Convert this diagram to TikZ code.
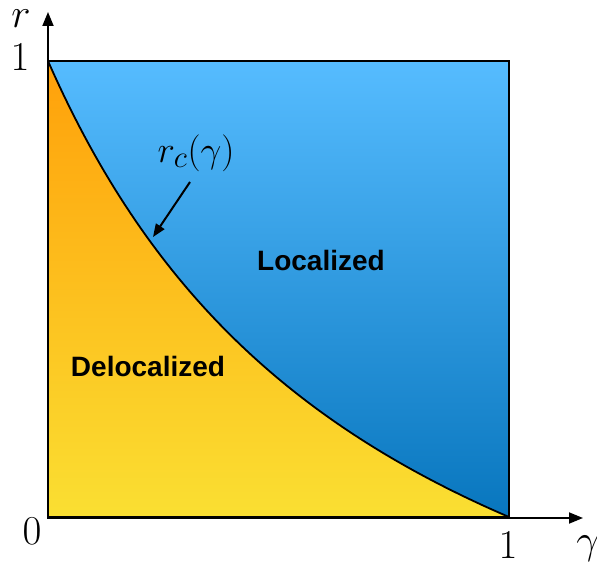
\documentclass[tikz,border=0pt]{standalone}
\usepackage{fontspec}
\newfontfamily\labfont{Liberation Sans}
\usetikzlibrary{arrows.meta}
\definecolor{bluetop}{RGB}{86,188,255}
\definecolor{bluebot}{RGB}{8,118,190}
\definecolor{orgtop}{RGB}{255,160,10}
\definecolor{yelbot}{RGB}{250,223,50}
\tikzset{
  axislab/.style={inner sep=0pt, font=\Huge, scale=1.65},
  regionlab/.style={inner sep=0pt, font=\labfont\bfseries\fontsize{28}{32}\selectfont},
  axisline/.style={line width=1.8pt, -{Stealth[length=14pt,width=11pt,inset=0pt]}},
  borderline/.style={line width=2.2pt, line join=miter},
  curveline/.style={line width=1.8pt},
}
\begin{document}
\begin{tikzpicture}[x=1pt,y=-1pt]
\useasboundingbox (0,0) rectangle (597,567);
% regions
\fill[top color=bluetop, bottom color=bluebot]
  (48,61) -- (509,61) -- (509,517)
  -- plot[domain=1:0, samples=90] ({48+461*\x},{517-456*(1-\x)/(1+1.3*\x)}) -- cycle;
\fill[top color=orgtop, bottom color=yelbot]
  plot[domain=0:1, samples=90] ({48+461*\x},{517-456*(1-\x)/(1+1.3*\x)}) -- (48,517) -- cycle;
\draw[curveline] plot[domain=0:1, samples=90] ({48+461*\x},{517-456*(1-\x)/(1+1.3*\x)});
% border
\draw[borderline] (48,517) -- (48,61) -- (509,61) -- (509,517) -- cycle;
% axes
\coordinate (o) at (48,518);
\coordinate (ytip) at (48,12);
\coordinate (xtip) at (583,518);
\draw[axisline] (o) -- (ytip);
\draw[axisline] (o) -- (xtip);
\draw[line width=3pt] (47,517) -- (509,517);
% axis labels
\node[axislab] (rlab) at (21,19) {$r$};
\node[axislab] (y1) at (20,57) {$1$};
\node[axislab] (x0) at (32,531) {$0$};
\node[axislab] (x1) at (508,545) {$1$};
\node[axislab] (glab) at (588,549) {$\gamma$};
% curve label
\node[axislab, scale=0.9] (rc) at (196,153) {$r_c(\gamma)$};
\coordinate (tip) at (153,237);
\draw[line width=2pt, -{Stealth[length=13pt,width=10pt,inset=0pt]}] (190,182) -- (tip);
% region labels
\node[regionlab] (loc) at (321,260) {Localized};
\node[regionlab] (deloc) at (148,366) {Delocalized};
\end{tikzpicture}
\end{document}
